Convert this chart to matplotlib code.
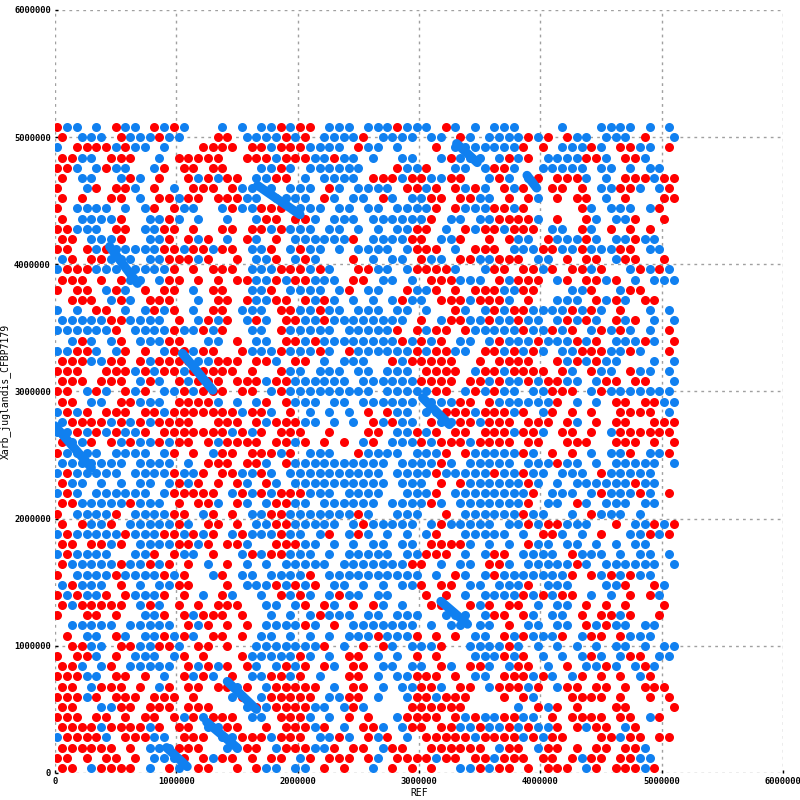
# dot plot of REF vs Xarb_juglandis_CFBP7179 (red = forward, blue = reverse)
import matplotlib
matplotlib.use("Agg")
import matplotlib.pyplot as plt

# hits on an 80 kb grid (alternate rows staggered by
# a quarter cell), top row = 5.12 Mb
# 'r' forward hit, 'b' reverse hit, '.' nothing
cell_size = 80000
top_edge = 5120000
cells = [
    "rbb.b.rbb.rbrb...b.b.bbrb" "rr.bbb.bbbrbbb.rb.b.b" "bb....b...bbbb.b.b",
    "r.bbb.rbbbrbb...rr.bbbbrb" "r.bbbbr.bbbb.bb.rb.bb" "bbrbr.rbb.bbb.r..b",
    "b.rrrrbrbb.b...rrrr.rrbrr" "rbbbb.rbb.b...r.bbbbb" "bbr.r.bbbrb.rrbb.r",
    "rrbb.rrr..b.rrrrr..rrrbrr" "rbbrbb.b..bb..brbbb.b" "rbr.bbbbrrb.rrb...",
    "rrb.brbb..br.rr.rr...bbrb" ".bbbbbb...rbbr..bb.br" "rb..bbbbb.bb.b.bb.",
    "r.bb..brb.r..rbrbrr.bbrr." "b.bbbb.rrrbrrbbrr..br" "b.br.rrrb.b.rrrbrr",
    "r..br.rrb.r.b.rrr.rbb.b.b" "bb.rb.bbbb.rrbr.rbrb." "rbr..rr.r.bbrrb.br",
    "r.r..rr.b.rrbrr.rrrbb.bbb" "b.rb.bb.rb.bbrr.rrbb." "r.rb.r.rr.b.r...rr",
    "r.bbbb.b.br.rbb..brbbrrr." "bbb.bb.bb.bbbbr.rbbbr" "rbr.....rb.bbb.br.",
    "r.bbbbr..bbrb.b..b..brr.r" "rb.bbb.bbbbbbr.bb.bbr" "rrrb.r..rb.bbr..r.",
    "rrbbb.rr.bbrr.r..rr.rrbrb" "bb.bb.b.b.bbrr.b.rbrr" "brrr.bb.rb.r.r.r..",
    "rr.bbbr..bbr.rbr.b.rb.r.b" "bbbbbr.bbbbrr.bbr..r." "rbb.rbbbrb.bbrbb..",
    "rr.rbrbbbbbrrbrrbrr.bbr.b" "rbb.b.bbbb.brrr.b.rrr" ".bbbrrbbrbbbrr.bb.",
    "br.rrbbb.bbrrrbr..r.bbr.b" "rb...r.b.bb.rbb.rrbbr" "rr.bb.r.rr.brr..r.",
    "brrrbbb.bbbbr.r.rrr.bbbrr" "rbrb..rrbb.brrrrb..br" "r.rrbr.rrbr..brbrb",
    "rrr.r.rbb.brr.r.r.rrbbrbr" "rbbb.rr.bb.b.rrrbbb.r" "brrr.br.rrbr.b.bbb",
    "r.rr.brb.r.rr.b.rr..bbr.b" "bbb.br.bb..rbbr.r.rrr" "bbrr...bbr..brr...",
    ".rrr.brb.rrr..b.rr.rbbrr." "rbrb.b.b.brbb.rrrbrrr" "b.r..bbb.rbrb.rr..",
    "b.b.rr.b.brbr.b.rr.bbb.rr" "bbrbb.bbb.bb.b..rb.br" "brrbbbbrbrb.r..b.b",
    "bbbbbrrbbbb.r.brbr.brb.rr" "bbrbbbbbbbb.r.brrbbrb" "brbb.brbrb.rbr.b.b",
    "bbbbbbr.bbbbrbbrbr..bb.rb" "bbbb.bbbbbr.rbrr.rbbb" "bbrbbrbr.brbrb.b.r",
    ".brb.br.bbbrr..bb.r.bb.rr" "brbbbbbbbbrbrbr.bb.br" "bbbrbbbrbr.bbbrb.r",
    "bbrrb.br.r.brrbrr..rbbbrb" "bbrb.rbbbbbbrbrrbb.rr" "brbrb.bbrrrbbrb..r",
    "rrrbbrr.rbrrrrbbrrr.rrb.r" "r.b.bbb..rbrrrrr..r.r" "rrr..rbrbrbb...b.b",
    "rrr..rrrbrbrrbrrrrr.r..rb" "b.bbb.bb.bbb.rrrr.brr" "brrrr.rb.rbb.rbb.b",
    "rrr.rrr.brb.rbrrr.rrrbrrb" "bbbbb.bbbbbbrrrr.rrbr" "bbrbrrbb.brr.rr..b",
    "rr.brb.rbr.bbrbrrr.rr.brb" "bbbbbbbb.bbbbbrr.brbr" "bb.bbrrr.brbbbbbbb",
    "rr.bb.rrbbb.rrrrb.b.br.rb" "bb.bb.bbbbbb.bbbrr.rb" "bbbbbr.b.b.rr.rrbb",
    "brbr.rrr.rrbrrrrrrrbrrb.r" ".b.b.b.r.rbb.bbrrrbrr" "rbr.br.r.r..rrrr.b",
    "brrrrbrbrbrrrr..rrr.rbrrr" "bb.b.b.rbrbb.rbbrrbrr" "r.rrr.rb.r.rr..rrr",
    "bbrbrbrbbr.rrrrrrrbrbr.rr" "r..r...rr.bbrbr.rr.rr" "rbrrb.rr.r.brrrrrr",
    "rbbr.rbrbbrbrr.rbrrrr.rrb" "r.r.r.br.bbbrbrrrbrrr" "r.rr..rrr..rrr.r.r",
    "rbbbb.bbbb.br.r.brr.rrrbr" ".bbb..rbbbb.bbbr.rbbb" "bbrb.r.r.b.bbr.bbr",
    "bbbbbbb.bbbb.b.rrr.rrb.rb" "bbbbbbbbb.bbbbrb.bbbb" "b.bbbrbb.b.bbbbb.b",
    "brbbbbb.bbbbrbbr.rrbbrb.b" "bbbbbbbbb.bbbbrbbbbbr" "bbrbb.bbb.rbbbbb..",
    "rbb.b.b.bb.brbr.r.rb.rb.b" "bbbbbbbbb.bbb.r.rbbbb" "bbrb.b.bbbbbbrbb..",
    "brb.bbbbbb.brrrrr.brbrbrr" "rbbb.bbbb..bbbr.bbbbb" "bbbr.bbb.brbbbrb.r",
    "rrbbbbbrbbb.r.rrb.rb.brrb" "b.bbbbbb.bbbbrb.bbbbb" "bbr.bb.rb.bbb.bb..",
    "r.bbbbr.bbbbrr.br.r.bbrrb" "bbbbbbrb..bbb..r.bbbb" "bbrbb..b.rbbb.b...",
    "r.rbbr.bbbbbrb.rr.r.bbrrb" "bbbb.brbbbbb.brbbbbb." "bbrbrrbbb..r.bbrbr",
    "brbbbbbrbbbrrbrbr.brbbbrb" "b.br.brb.b.b.br..bbbb" "b.b.rrb.b.r..bbrbr",
    "rr.rrbr.bbbbrrbr.rrb..rrr" "bb.b.b.bb.bb.rrrrb.b." "b.rbb.bb.b.b.bb...",
    "brbbbb..bbr.rbb.r..brbrrb" "bb.b.bbbbb.bbrrr.b.br" "r.bbbb.rbbb.b.bb.b",
    "rbbbbbrbbrbr.r.b.r.b.b.bb" "bbb.bbbbbbbrr.b.bb.rr" "b.bbbbbrb.bbbbbb.b",
    "r.bbbbrbbbbrbr..br.bb.bbb" "br.bbbbbbbbbb.b.rb.br" "bbbbbbbr.rbrbrbb..",
    "brbbb.r.b.bbrr...r.bbbrbr" "br.bb.b.b.bbr.rr.bb.b" "bbr.bbb...bbr..rb.",
    "rbrbbr.rbbbr.r.b.rb..b.rb" "rb.brbb.bb...r.r.b.bb" "bbrbrbrr.b.b.r.rb.",
    "rbrrrrr.brb.r.r.rrr..bb.b" "r.rb.r.rb.b..rr..rbr." "rr.b.bb.r.r.r...r.",
    "r..rr.r..bbr.rbrrr.r..b.b" ".brbbb.bb.bbb..bbb.br" "r.rb.bb.r.rrbr..r.",
    ".bbbbb.bbbbb.rbr.r.r.bbbb" "rb.r.bbbbbbb.b.bb.bb." "r.bb.bb.rbrbb.bb..",
    ".r.bb.rb.bbrbrb.rr.r.bb.b" ".b.b.bbbrbbbr.r.r.bb." "rbrbbbr.brr.rbbb..",
    ".rrbb.rrbbrrb.rr.r..bbbbb" "bbr.b.r.rb.bbbr..bbbb" "rb.b.b.b.b.bb.b.bb",
    "r.rrb.r.bbb.br.r...rbbbbb" "rb.b.rr.b.b.r.r...bbb" "rbr.b.b.brb.brr.bb",
    "rrb.br.bbbbb.rbrbr.rb.brb" "r.rb.rr.bb.bb.rb.rrb." "brr.b.r.bbrb.brb..",
    "rrrbb.rr.r.b.rbrb.r.bbrrb" "r.b..rr.b.bbrrr.r.bb." "rrrbrb.br.r.r.br..",
    "rr.brrr.r.br.rr.rrbr.brrr" "rr.b.rr.b.bbrrb.rr.br" "rrbr.brr.rr.r.rrr.",
    "rrrbr.rrr.rrr.r...br.brrr" "rr.bbrr.b..brrbrrr..." "r.rb...rrrr.r..r.r",
    "rr..bbrr.rrr.rrr...brbrrr" "rbb.brb....rrrrrr...." ".b.rbr.r...rr....r",
    "rrr.rr.r.rr.rbrbrrr.bb.rr" "rb.b.r.r..brrrr.rbrbb" "rrbb.r.rrrr.rr.br.",
    "rrrrbrrrrbr.rr.bbrr..r.rr" "rbr.b.rrb.brr.rrbbrbb" "rbrbbr.rbrr.br....",
    "brrrrb.rrrbb.rrr.bbrrrbrr" "r.bbrb.rbr.b.rrrrrbrr" "rrbrbrr...rrbrr.rr",
    "rrrrrr.r.bbbrrr..bbrr.brr" "rbbr.rr.brr..rrrrrr.b" "rr.brr.r.rr.rrb...",
    "rr.r.rr.r.bbbr.rbrr.r.rr." "br.rrr.rb.rrrrbrr.rrb" "rrr.rr.rbrr.rrbb..",
    "rr.brrrr.b.rb.rr..r.rbb.b" "b.r.r..b.r.r.r..bbrbr" "r.r.rrr.br.rrrbr..",
]

# longer reverse alignments (ref start, query start, ref end, query end)
rev_lines = [
    (0.00e6, 2.73e6, 0.30e6, 2.40e6),
    (1.05e6, 3.30e6, 1.30e6, 3.01e6),
    (0.45e6, 4.14e6, 0.68e6, 3.85e6),
    (1.67e6, 4.62e6, 2.02e6, 4.39e6),
    (1.25e6, 0.40e6, 1.50e6, 0.20e6),
    (1.42e6, 0.72e6, 1.66e6, 0.50e6),
    (0.92e6, 0.20e6, 1.09e6, 0.05e6),
    (3.03e6, 2.95e6, 3.25e6, 2.74e6),
    (3.89e6, 4.70e6, 3.97e6, 4.60e6),
    (3.31e6, 4.95e6, 3.48e6, 4.80e6),
    (3.18e6, 1.35e6, 3.40e6, 1.17e6),
]

tick_values = [0, 1000000, 2000000, 3000000, 4000000, 5000000, 6000000]

fwd_color = "#ff0000"
rev_color = "#1080f0"

fwd_x, fwd_y, rev_x, rev_y = [], [], [], []
for r, row in enumerate(cells):
    stagger = 0.25 if r % 2 else -0.25
    for c, ch in enumerate(row):
        x = (c + 0.5 + stagger) * cell_size
        y = top_edge - (r + 0.5) * cell_size
        if ch == "r":
            fwd_x.append(x)
            fwd_y.append(y)
        elif ch == "b":
            rev_x.append(x)
            rev_y.append(y)

fig = plt.figure(figsize=(8, 8), dpi=100)
ax = fig.add_axes([55 / 800, 27 / 800, 728 / 800, 763 / 800])

dot = 6.5  # marker diameter in points
ax.scatter(fwd_x, fwd_y, s=dot ** 2, color=fwd_color, linewidths=0, zorder=3)
ax.scatter(rev_x, rev_y, s=dot ** 2, color=rev_color, linewidths=0, zorder=4)
for x1, y1, x2, y2 in rev_lines:
    ax.plot([x1, x2], [y1, y2], color=rev_color, lw=dot,
            solid_capstyle="round", zorder=5)

ax.set_xlim(0, 6000000)
ax.set_ylim(0, 6000000)
ax.set_xticks(tick_values)
ax.set_yticks(tick_values)
ax.set_xticklabels([str(v) for v in tick_values])
ax.set_yticklabels([str(v) for v in tick_values])
for lab in ax.get_xticklabels() + ax.get_yticklabels():
    lab.set_fontfamily("DejaVu Sans Mono")
    lab.set_fontsize(6.3)
    lab.set_fontweight("bold")
ax.tick_params(length=2, width=1, pad=3, direction="in")
ax.grid(True, color="#a0a0a0", linestyle=(0, (2, 3)), linewidth=1)
ax.set_axisbelow(True)
for sp in ax.spines.values():
    sp.set_visible(False)

ax.set_xlabel("REF", fontfamily="DejaVu Sans Mono", fontsize=7, labelpad=1)
ax.set_ylabel("Xarb_juglandis_CFBP7179", fontfamily="DejaVu Sans Mono",
              fontsize=7)
ax.yaxis.set_label_coords(-0.061, 0.5)

fig.savefig("out.png", dpi=100)
